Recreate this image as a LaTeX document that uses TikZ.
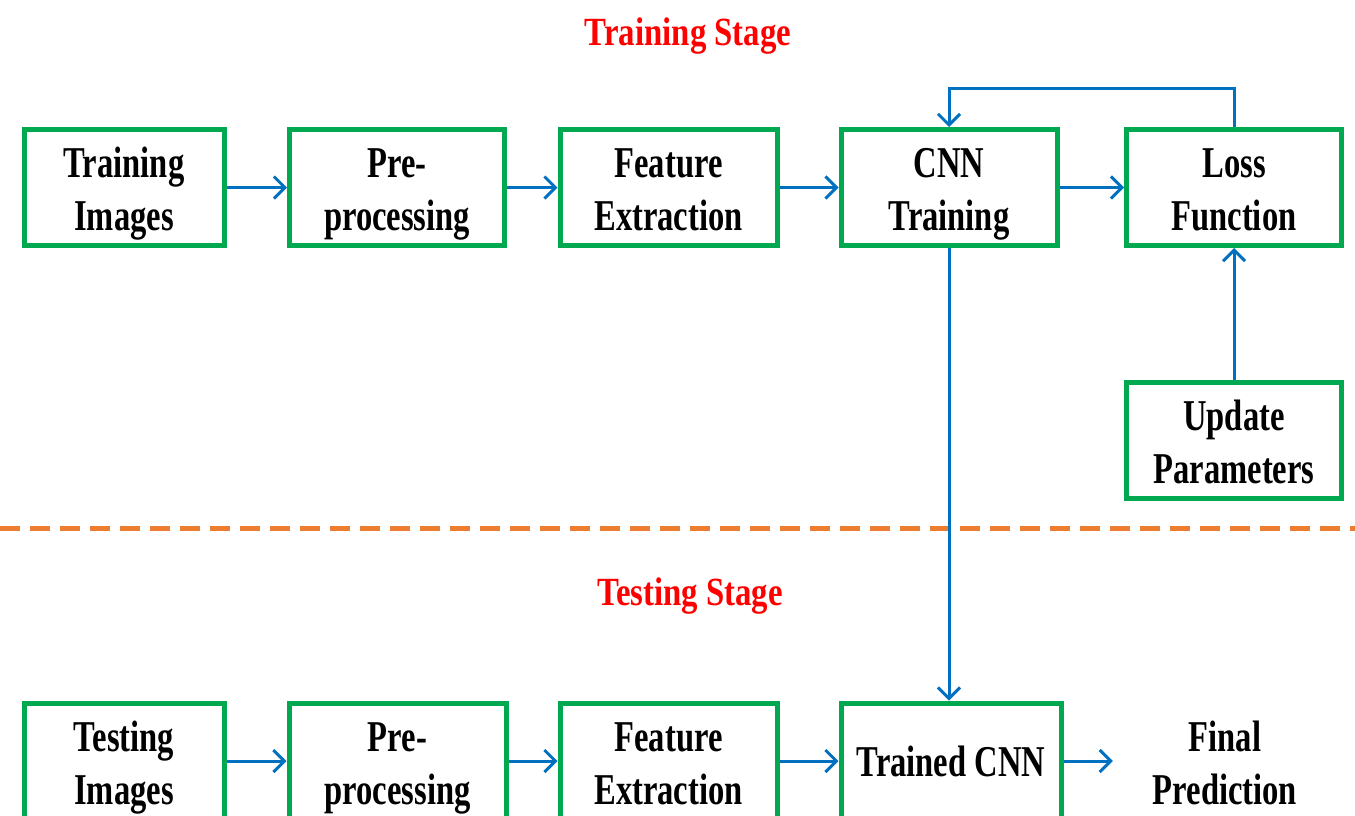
\documentclass[tikz,border=0pt]{standalone}
\usepackage{fontspec}
\setmainfont{Liberation Serif}[FakeStretch=0.74]
\newfontfamily\titlefont{Liberation Serif}[FakeStretch=0.82]
\usetikzlibrary{arrows.meta}
\definecolor{boxgreen}{RGB}{0,168,80}
\definecolor{arrowblue}{RGB}{0,112,192}
\definecolor{dashorange}{RGB}{237,125,49}
\newcommand{\twolines}[2]{\raisebox{-6pt}[\height][\depth]{\begin{tabular}{@{}c@{}}#1\\#2\end{tabular}}}
\tikzset{
  stagebox/.style={draw=boxgreen, line width=5pt, fill=white, align=center,
    minimum height=116pt, inner sep=0pt,
    font=\fontsize{44}{53}\selectfont\bfseries},
  plaintext/.style={align=center, inner sep=0pt,
    font=\fontsize{44}{53}\selectfont\bfseries},
  stagetitle/.style={text=red, inner sep=0pt,
    font=\titlefont\fontsize{40}{48}\selectfont\bfseries},
  flow/.style={draw=arrowblue, line width=3pt,
    -{Straight Barb[length=11pt,width=22pt,line width=3pt]}},
  divider/.style={draw=dashorange, line width=5pt, dash pattern=on 20pt off 10pt}
}
\begin{document}
\begin{tikzpicture}[x=1pt,y=-1pt]
\useasboundingbox (0,0) rectangle (1355,815);
\fill[white] (0,0) rectangle (1355,815);

% titles
\node[stagetitle] (ttrain) at (688,36) {Training Stage};
\node[stagetitle] (ttest) at (690,596) {Testing Stage};

% divider
\draw[divider] (0,528) -- (1355,528);

% training row
\node[stagebox, minimum width=200pt] (tr1) at (124,187.5) {\twolines{Training}{Images}};
\node[stagebox, minimum width=215pt] (tr2) at (397,187.5) {\twolines{Pre-}{processing}};
\node[stagebox, minimum width=217pt] (tr3) at (668.5,187.5) {\twolines{Feature}{Extraction}};
\node[stagebox, minimum width=216pt] (tr4) at (949,187.5) {\twolines{CNN}{Training}};
\node[stagebox, minimum width=215pt] (tr5) at (1234,187.5) {\twolines{Loss}{Function}};
\node[stagebox, minimum width=215pt] (upd) at (1234,440.5) {\twolines{Update}{Parameters}};

% testing row
\node[stagebox, minimum width=200pt] (te1) at (124,761) {\twolines{Testing}{Images}};
\node[stagebox, minimum width=217pt] (te2) at (397.5,761) {\twolines{Pre-}{processing}};
\node[stagebox, minimum width=217pt] (te3) at (668.5,761) {\twolines{Feature}{Extraction}};
\node[stagebox, minimum width=220pt] (te4) at (951,761) {Trained CNN};
\node[plaintext, minimum width=224pt, minimum height=100pt] (final) at (1225,761) {\twolines{Final}{Prediction}};

% connectors
\draw[flow] (tr1) -- (tr2);
\draw[flow] (tr2) -- (tr3);
\draw[flow] (tr3) -- (tr4);
\draw[flow] (tr4) -- (tr5);
\draw[flow] (tr5.north) -- ++(0,-39) -| (tr4.north);
\draw[flow] (upd) -- (tr5);
\draw[flow] (tr4.south) -- (tr4.south |- te4.north);

\draw[flow] (te1) -- (te2);
\draw[flow] (te2) -- (te3);
\draw[flow] (te3) -- (te4);
\draw[flow] (te4.east) -- (te4.east -| final.west);
\end{tikzpicture}
\end{document}
